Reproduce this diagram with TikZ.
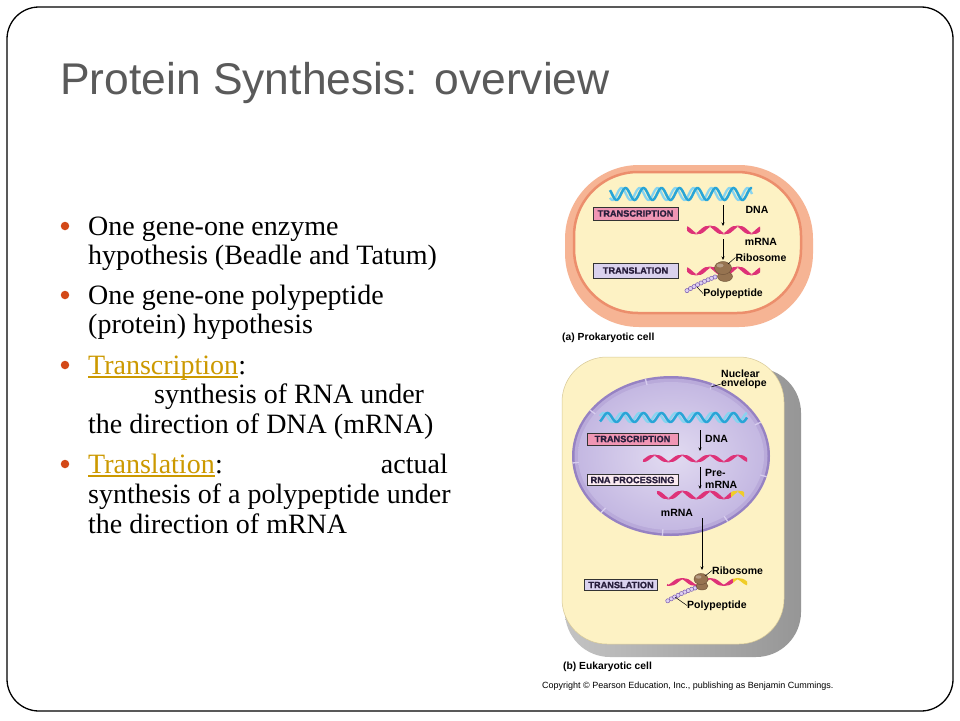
\documentclass[tikz,border=0pt]{standalone}
\usepackage{fontspec}
\setmainfont{Liberation Serif}
\newfontfamily\titlefont{Liberation Sans}
\newfontfamily\labfont{Liberation Sans}
\newfontfamily\boxfont[FakeBold=1.2]{Liberation Sans}
\usetikzlibrary{arrows.meta}
\definecolor{titlegray}{RGB}{90,90,90}
\definecolor{bulletc}{RGB}{211,72,23}
\definecolor{linkc}{RGB}{204,153,0}
\definecolor{cellyel}{RGB}{253,242,196}
\definecolor{salmon}{RGB}{236,142,108}
\definecolor{peach}{RGB}{246,180,148}
\definecolor{dnadark}{RGB}{40,165,215}
\definecolor{dnalight}{RGB}{135,212,240}
\definecolor{rnac}{RGB}{222,50,120}
\definecolor{capyel}{RGB}{240,205,40}
\definecolor{ribo}{RGB}{150,115,80}
\definecolor{ribodark}{RGB}{105,78,52}
\definecolor{beadfill}{RGB}{222,208,242}
\definecolor{beaddraw}{RGB}{120,90,175}
\definecolor{boxpink}{RGB}{240,150,180}
\definecolor{boxlav}{RGB}{218,210,238}
\definecolor{boxlight}{RGB}{250,234,240}
\definecolor{boxtext}{RGB}{40,30,60}
\definecolor{nucrim}{RGB}{150,130,195}
\definecolor{nucmid}{RGB}{185,170,218}
\definecolor{nucin}{RGB}{226,219,241}
\definecolor{nucout}{RGB}{196,184,226}
\definecolor{porec}{RGB}{215,205,238}
\definecolor{graylight}{RGB}{195,195,195}
\definecolor{graydark}{RGB}{150,150,150}
\definecolor{eukedge}{RGB}{215,200,150}
\newcommand{\myhelix}[4]{%
  \draw[dnalight, line width=2.3pt] plot[domain=#1:#2,samples=140] (\x,{#3+#4*sin(\x*20+80)});
  \draw[dnadark, line width=2.5pt] plot[domain=#1:#2,samples=140] (\x,{#3+#4*sin(\x*20)});
}
\newcommand{\myribbon}[5]{%
  \fill[#5] plot[domain=#1:#2,samples=60] (\x,{#3+#4*sin(\x*13)}) -- plot[domain=#2:#1,samples=60] (\x,{#3+#4*sin(\x*13+80)}) -- cycle;
  \draw[#5, line width=0.9pt] plot[domain=#1:#2,samples=60] (\x,{#3+#4*sin(\x*13+40)});
}
\newcommand{\mybeads}[4]{%
  \foreach \i in {0,...,8} {\draw[beaddraw, fill=beadfill, line width=0.5pt] ({#1-#3*\i},{#2+#4*\i+0.05*\i*\i}) circle (2.1);}
}
\begin{document}
\begin{tikzpicture}[x=1pt,y=-1pt,
  procbox/.style={draw=black!80, line width=0.6pt, font=\boxfont\bfseries\fontsize{9.2}{9.2}\selectfont, text=boxtext, inner sep=0pt, align=center},
  lab/.style={font=\labfont\bfseries\fontsize{10.5}{10.5}\selectfont, inner sep=0pt},
  flow/.style={-{Stealth[length=3.5pt,width=3pt]}, line width=0.6pt},
  leader/.style={line width=0.5pt},
  bt/.style={anchor=base west, inner sep=0pt, font=\fontsize{28}{30}\selectfont},
  dot/.style={circle, fill=bulletc, inner sep=0pt, minimum size=8.5pt}]
\useasboundingbox (0,0) rectangle (960,720);
\fill[white] (0,0) rectangle (960,720);
\draw[line width=1.3pt, rounded corners=32pt] (7,7) rectangle (953,711);

\node[anchor=base west, inner sep=0pt, text=titlegray, font=\titlefont\fontsize{44.4}{50}\selectfont] (title) at (60,94) {Protein Synthesis: overview};

% bullets
\node[dot] (b1) at (65,226) {};
\node[dot] (b2) at (65,295) {};
\node[dot] (b3) at (65,365) {};
\node[dot] (b4) at (65,464) {};
\node[bt] (l1) at (88,235) {One gene-one enzyme};
\node[bt] (l2) at (88,264.5) {hypothesis (Beadle and Tatum)};
\node[bt] (l3) at (88,304) {One gene-one polypeptide};
\node[bt] (l4) at (88,333.5) {(protein) hypothesis};
\node[bt, text=linkc] (l5) at (88,374) {Transcription};
\node[bt] (l5c) at (l5.base east) {:};
\draw[linkc, line width=1.1pt] ([yshift=-3pt]l5.base west) -- ([yshift=-3pt]l5.base east);
\node[bt] (l6) at (154,403.5) {synthesis of RNA under};
\node[bt] (l7) at (88,433) {the direction of DNA (mRNA)};
\node[bt, text=linkc] (l8) at (88,473) {Translation};
\node[bt] (l8c) at (l8.base east) {:};
\draw[linkc, line width=1.1pt] ([yshift=-3pt]l8.base west) -- ([yshift=-3pt]l8.base east);
\node[bt, anchor=base east] (l8b) at (448,473) {actual};
\node[bt] (l9) at (88,503) {synthesis of a polypeptide under};
\node[bt] (l10) at (88,533) {the direction of mRNA};

% ---------- prokaryotic cell ----------
\fill[peach, rounded corners=74pt] (565,165) rectangle (813,327);
\draw[salmon, line width=2.5pt, fill=cellyel, rounded corners=64pt] (574,172) rectangle (801,313);
\myhelix{610}{752}{194}{6}
\node[procbox, fill=boxpink, minimum width=85pt, minimum height=13pt] (ptc) at (635.5,213.5) {TRANSCRIPTION};
\node[procbox, fill=boxlav, minimum width=85pt, minimum height=15pt] (ptl) at (635.5,270.5) {TRANSLATION};
\coordinate (pa1s) at (723,205);
\coordinate (pa1e) at (723,226);
\draw[flow] (pa1s) -- (pa1e);
\myribbon{687}{760}{230}{4}{rnac}
\coordinate (pa2s) at (723,239);
\coordinate (pa2e) at (723,260);
\draw[flow] (pa2s) -- (pa2e);
\myribbon{687}{760}{271}{4}{rnac}
\mybeads{715}{277}{3.5}{1.3}
\fill[ribo, draw=ribodark, line width=0.4pt] (725,276.5) ellipse (7.5 and 5);
\fill[ribo, draw=ribodark, line width=0.4pt] (723,268) ellipse (8.5 and 6.5);
\fill[ribo!70!white] (720,265.5) ellipse (3.5 and 2);
\node[lab] (pdna) at (757,210) {DNA};
\node[lab] (pmrna) at (761,242) {mRNA};
\node[lab] (pribo) at (761,257.5) {Ribosome};
\node[lab] (ppoly) at (733,293.5) {Polypeptide};
\coordinate (prl) at (728,264);
\draw[leader] (prl) -- (pribo.west);
\coordinate (ppl) at (697,287);
\draw[leader] (ppl) -- (ppoly.west);
\node[lab, anchor=west, font=\labfont\bfseries\fontsize{10.3}{10.5}\selectfont] (pcap) at (562,337.5) {(a) Prokaryotic cell};

% ---------- eukaryotic cell ----------
\shade[left color=graylight, right color=graydark, rounded corners=45pt] (565,368) rectangle (801,657);
\draw[eukedge, line width=0.5pt, fill=cellyel, rounded corners=45pt] (562,357) rectangle (784,644);
\fill[nucrim] (671,456) ellipse (99 and 80);
\fill[nucmid] (671,456) ellipse (96.5 and 77.5);
\shade[inner color=nucin, outer color=nucout] (671,456) ellipse (93 and 74);
\foreach \a in {15,55,...,335} {\draw[porec, line width=1.3pt] ({671+92.5*cos(\a)},{456+73.5*sin(\a)}) -- ({671+99*cos(\a)},{456+80*sin(\a)});}
\node[lab, anchor=west] (nuc1) at (721,373.5) {Nuclear};
\node[lab, anchor=west] (nuc2) at (721,384) {envelope};
\coordinate (nel) at (711,387);
\draw[leader] (nel) -- (nuc2.west);
\myhelix{600}{747}{417.5}{4.5}
\node[procbox, fill=boxpink, minimum width=91pt, minimum height=12pt] (etc) at (632.5,439) {TRANSCRIPTION};
\node[procbox, fill=boxlight, minimum width=91pt, minimum height=11.5pt] (erp) at (632.5,480) {RNA PROCESSING};
\node[procbox, fill=boxlav, minimum width=73pt, minimum height=11.5pt] (etl) at (621,585) {TRANSLATION};
\coordinate (ea1s) at (700,430);
\coordinate (ea1e) at (700,451);
\draw[flow] (ea1s) -- (ea1e);
\node[lab, anchor=west] (edna) at (705,438.5) {DNA};
\myribbon{643}{747}{458.5}{3.5}{rnac}
\coordinate (ea2s) at (700,467);
\coordinate (ea2e) at (700,489);
\draw[flow] (ea2s) -- (ea2e);
\node[lab, anchor=west] (epre1) at (705,473) {Pre-};
\node[lab, anchor=west] (epre2) at (705,485) {mRNA};
\myribbon{657}{731}{495}{4}{rnac}
\myribbon{731}{744}{495}{4}{capyel}
\node[lab] (emrna) at (677,513) {mRNA};
\coordinate (ea3s) at (702,518);
\coordinate (ea3e) at (702,570);
\draw[flow] (ea3s) -- (ea3e);
\myribbon{667}{733}{582}{3.5}{rnac}
\myribbon{733}{747}{582}{3.5}{capyel}
\mybeads{695}{588}{3.4}{1.2}
\fill[ribo, draw=ribodark, line width=0.4pt] (702,586) ellipse (6 and 4);
\fill[ribo, draw=ribodark, line width=0.4pt] (701,579) ellipse (7 and 5.5);
\fill[ribo!70!white] (698.5,577) ellipse (3 and 1.7);
\node[lab, anchor=west] (eribo) at (712,570.5) {Ribosome};
\coordinate (erl) at (705,576);
\draw[leader] (erl) -- (eribo.west);
\node[lab, anchor=west] (epoly) at (687,605.5) {Polypeptide};
\coordinate (epl) at (675,597);
\draw[leader] (epl) -- (epoly.west);
\node[lab, anchor=west, font=\labfont\bfseries\fontsize{10.3}{10.5}\selectfont] (ecap) at (563,667) {(b) Eukaryotic cell};
\node[anchor=west, inner sep=0pt, font=\labfont\fontsize{9}{10}\selectfont] (copy) at (542,686.5) {Copyright \textcopyright{} Pearson Education, Inc., publishing as Benjamin Cummings.};
\end{tikzpicture}
\end{document}
